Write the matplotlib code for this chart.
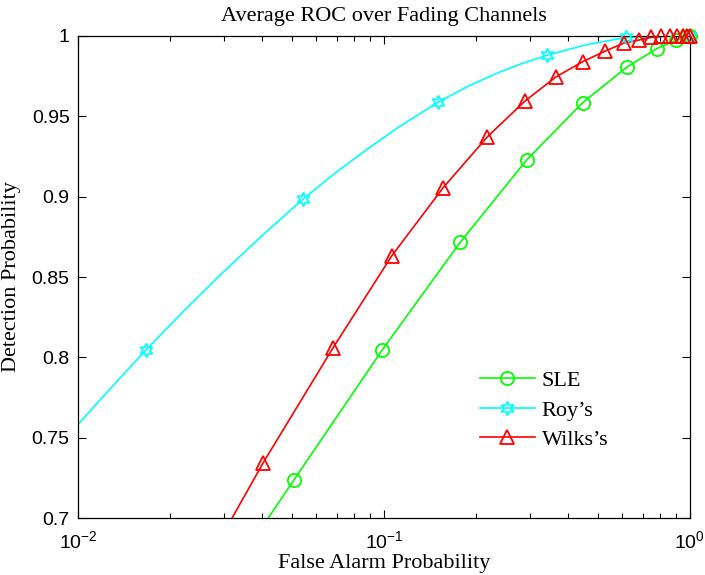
import numpy as np
import matplotlib
matplotlib.use("Agg")
import matplotlib.pyplot as plt
from matplotlib.lines import Line2D
from matplotlib.ticker import FixedLocator, FuncFormatter

# Valeurs (Pfa, Pd)
sle_pfa = [0.026, 0.0508, 0.0987, 0.1775, 0.2925, 0.446, 0.621, 0.780, 0.900, 0.980, 1.0]
sle_pd = [0.6417, 0.7237, 0.8046, 0.8716, 0.9228, 0.9585, 0.9805, 0.9922, 0.9972, 0.9997, 1.0]

roy_pfa = [0.0100, 0.01272, 0.01668, 0.02237, 0.03023, 0.04085, 0.0544, 0.06917, 0.08799,
           0.1128, 0.1505, 0.1910, 0.2394, 0.2783, 0.3409, 0.4571, 0.6177, 0.798, 1.0]
roy_pd = [0.7582, 0.7803, 0.8046, 0.8296, 0.8541, 0.8774, 0.8985, 0.9146, 0.9294,
          0.9438, 0.9589, 0.9693, 0.9776, 0.9824, 0.9880, 0.9945, 0.9991, 0.9997, 1.0]
roy_mark = [2, 6, 10, 14, 16, 18]  # indices des points portant un marqueur

wilks_pfa = [0.0200, 0.0403, 0.0680, 0.1060, 0.1563, 0.2179, 0.2889, 0.3648, 0.4460,
             0.5295, 0.6085, 0.6815, 0.7455, 0.807, 0.860, 0.907, 0.948, 0.980, 1.0]
wilks_pd = [0.6314, 0.7344, 0.8056, 0.8631, 0.9057, 0.9373, 0.9595, 0.9745, 0.9840,
            0.9907, 0.9956, 0.9975, 0.9991, 0.9997, 1.0, 1.0, 1.0, 1.0, 1.0]

y_ticks = [0.7, 0.75, 0.8, 0.85, 0.9, 0.95, 1.0]

SERIF = ["Liberation Serif", "DejaVu Serif"]
SANS = ["Liberation Sans", "DejaVu Sans"]
plt.rcParams["font.family"] = SANS
plt.rcParams["mathtext.fontset"] = "custom"
plt.rcParams["mathtext.rm"] = "Liberation Sans"
plt.rcParams["mathtext.it"] = "Liberation Sans:italic"

fig = plt.figure(figsize=(7.05, 5.75), dpi=100)
ax = fig.add_axes([0.1106, 0.0991, 0.868, 0.8383])

hexagram = (6, 1, 0)
series = [
    ("SLE", sle_pfa, sle_pd, "#00ff00", "o", 9.5, list(range(1, len(sle_pfa)))),
    ("Roy\u2019s", roy_pfa, roy_pd, "#00ffff", hexagram, 10, roy_mark),
    ("Wilks\u2019s", wilks_pfa, wilks_pd, "#ff0000", "^", 10, list(range(1, len(wilks_pfa)))),
]
handles = []
for lbl, xs, ys, col, mk, ms, idx in series:
    xs = np.array(xs); ys = np.array(ys)
    ax.plot(xs, ys, color=col, lw=1.2, zorder=2)
    # marqueurs non coupés au bord (comme MATLAB)
    ax.plot(xs[idx], ys[idx], ls="none", marker=mk, ms=ms, mfc="none", mec=col,
            mew=1.3, clip_on=False, zorder=3)
    handles.append(Line2D([], [], color=col, lw=1.2, marker=mk, ms=ms, mfc="none",
                          mec=col, mew=1.3, label=lbl))

ax.set_xscale("log")
ax.set_xlim(1e-2, 1)
ax.set_ylim(0.7, 1.0)
ax.yaxis.set_major_locator(FixedLocator(y_ticks))
ax.yaxis.set_major_formatter(FuncFormatter(lambda v, p: f"{v:g}"))
ax.tick_params(which="both", direction="in", top=True, right=True, labelsize=14)
ax.tick_params(which="major", length=6, width=0.8)
ax.tick_params(axis="y", which="major", pad=6)
ax.tick_params(axis="x", which="major", pad=9)
ax.tick_params(which="minor", length=3.5, width=0.8)
for s in ax.spines.values():
    s.set_linewidth(0.9)

ax.set_title("Average ROC over Fading Channels", family=SERIF, fontsize=16, pad=10.5)
ax.set_xlabel("False Alarm Probability", family=SERIF, fontsize=16, labelpad=1)
ax.set_ylabel("Detection Probability", family=SERIF, fontsize=16, labelpad=8)

leg = ax.legend(handles=handles, loc="upper left", bbox_to_anchor=(0.638, 0.329),
                frameon=False, prop={"family": SERIF, "size": 16}, borderpad=0,
                handlelength=2.5, handletextpad=0.3, labelspacing=0.4)

fig.savefig("out.png", dpi=100)
